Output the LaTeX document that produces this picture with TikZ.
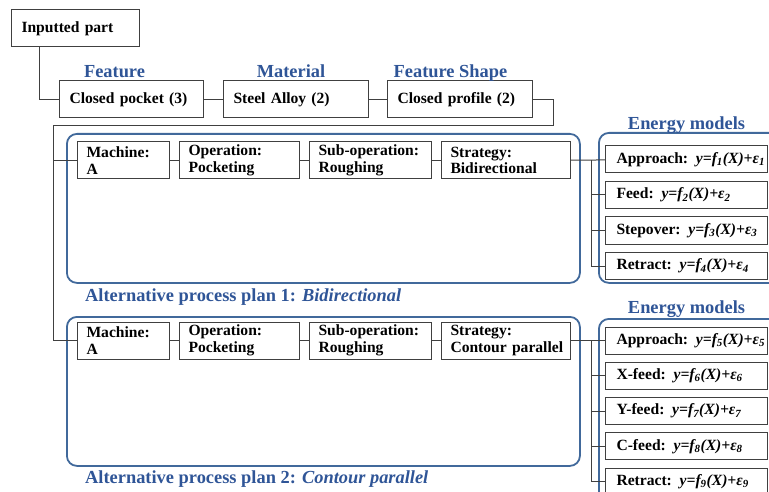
\documentclass[tikz,border=0pt]{standalone}
\usepackage{fontspec}
\setmainfont{Liberation Serif}
\usetikzlibrary{positioning}
\definecolor{titleblue}{RGB}{47,85,151}
\definecolor{frameblue}{RGB}{65,105,155}
\definecolor{boxgray}{RGB}{64,64,64}
\tikzstyle{part} = [rectangle, draw=boxgray, line width=1pt, minimum height=37pt, inner xsep=10pt, inner ysep=0pt, align=left]
\tikzstyle{planstep} = [part, inner xsep=9pt]
\tikzstyle{model} = [part, minimum height=27pt, inner xsep=11pt, text width=140pt]
\tikzstyle{frame} = [draw=frameblue, line width=1.8pt, rounded corners=10pt, inner sep=0pt]
\tikzstyle{heading} = [text=titleblue, font={\fontsize{18.4}{20}\selectfont\bfseries}, inner sep=0pt]
\tikzstyle{link} = [draw=boxgray, line width=1pt]
\tikzset{
  every node/.style={font={\fontsize{15.6}{16.5}\selectfont\bfseries}}}
\newcommand{\energyeq}[2]{\mbox{#1: \textit{y=f\textsubscript{#2}(X)+ε\textsubscript{#2}}}}

\begin{document}
\begin{tikzpicture}[x=1pt, y=-1pt]
    \clip (0,0) rectangle (769,492);

    % part and its features
    \node (input) [part, anchor=west, text width=108pt] at (11,28.5) {Inputted part};
    \node (pocket) [part, anchor=west, text width=124pt] at (59,99.5) {Closed pocket (3)};
    \node (alloy) [part, right=19pt of pocket, text width=125pt] {Steel Alloy (2)};
    \node (profile) [part, right=18pt of alloy, text width=125pt] {Closed profile (2)};

    \node [heading, anchor=base] at (114.5,78) {Feature};
    \node [heading, anchor=base] at (291,78) {Material};
    \node [heading, anchor=base] at (450.5,78) {Feature Shape};

    % process plans
    \node (planA) [frame, anchor=north west, minimum width=513pt, minimum height=149pt] at (66,133) {};
    \node (planB) [frame, anchor=north west, minimum width=513pt, minimum height=149pt] at (66,316) {};
    \node (modelsA) [frame, anchor=north west, minimum width=200pt, minimum height=150pt] at (598,132) {};
    \node (modelsB) [frame, anchor=north west, minimum width=200pt, minimum height=200pt] at (598,318) {};

    \node (machineA) [planstep, anchor=west, text width=74pt] at (77,160.5) {Machine:\\A};
    \node (operationA) [planstep, right=9pt of machineA, text width=102pt] {Operation:\\Pocketing};
    \node (suboperationA) [planstep, right=9pt of operationA, text width=104pt] {Sub-operation:\\Roughing};
    \node (strategyA) [planstep, right=9pt of suboperationA, text width=111pt] {Strategy:\\Bidirectional};

    \node (machineB) [planstep, anchor=west, text width=74pt] at (77,340.5) {Machine:\\A};
    \node (operationB) [planstep, right=9pt of machineB, text width=102pt] {Operation:\\Pocketing};
    \node (suboperationB) [planstep, right=9pt of operationB, text width=104pt] {Sub-operation:\\Roughing};
    \node (strategyB) [planstep, right=9pt of suboperationB, text width=111pt] {Strategy:\\\mbox{Contour parallel}};

    \node [heading, anchor=base west] at (85,301.7) {Alternative process plan 1: \textit{Bidirectional}};
    \node [heading, anchor=base west] at (85,483.3) {Alternative process plan 2: \textit{Contour parallel}};

    % energy models
    \node (approachA) [model, anchor=west] at (605,159.5) {\energyeq{Approach}{1}};
    \node (feedA) [model, below=7.5pt of approachA] {\energyeq{Feed}{2}};
    \node (stepoverA) [model, below=7.5pt of feedA] {\energyeq{Stepover}{3}};
    \node (retractA) [model, below=7.5pt of stepoverA] {\energyeq{Retract}{4}};

    \node (approachB) [model, anchor=west] at (605,340.5) {\energyeq{Approach}{5}};
    \node (xfeedB) [model, below=7.3pt of approachB] {\energyeq{X-feed}{6}};
    \node (yfeedB) [model, below=7.3pt of xfeedB] {\energyeq{Y-feed}{7}};
    \node (cfeedB) [model, below=7.3pt of yfeedB] {\energyeq{C-feed}{8}};
    \node (retractB) [model, below=7.3pt of cfeedB] {\energyeq{Retract}{9}};

    \node [heading, anchor=base] at (686.5,130) {Energy models};
    \node [heading, anchor=base] at (686.5,313.3) {Energy models};

    \coordinate (bend) at (553,126);
    \coordinate (split) at (53,126);

    \draw [link] ([xshift=-36pt]input.south) |- (pocket);
    \draw [link] (pocket) -- (alloy);
    \draw [link] (alloy) -- (profile);
    \draw [link] (profile.east) -| (bend) -- (split) |- (machineB);
    \draw [link] (split |- machineA) -- (machineA);

    \draw [link] (machineA) -- (operationA);
    \draw [link] (operationA) -- (suboperationA);
    \draw [link] (suboperationA) -- (strategyA);
    \draw [link] (machineB) -- (operationB);
    \draw [link] (operationB) -- (suboperationB);
    \draw [link] (suboperationB) -- (strategyB);

    \draw [link] (strategyA) -- (approachA);
    \draw [link] ([xshift=20pt]strategyA.east) |- (feedA);
    \draw [link] ([xshift=20pt]strategyA.east) |- (stepoverA);
    \draw [link] ([xshift=20pt]strategyA.east) |- (retractA);

    \draw [link] (strategyB) -- (approachB);
    \draw [link] ([xshift=20pt]strategyB.east) |- (xfeedB);
    \draw [link] ([xshift=20pt]strategyB.east) |- (yfeedB);
    \draw [link] ([xshift=20pt]strategyB.east) |- (cfeedB);
    \draw [link] ([xshift=20pt]strategyB.east) |- (retractB);
\end{tikzpicture}
\end{document}
